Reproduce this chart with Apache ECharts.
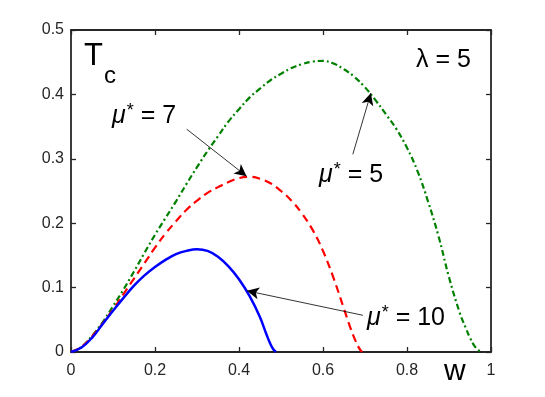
<!DOCTYPE html>
<html>
<head>
<meta charset="utf-8">
<script src="https://cdn.jsdelivr.net/npm/echarts@6/dist/echarts.min.js"></script>
<style>html,body{margin:0;padding:0;background:#fff}#c{width:545px;height:397px}</style>
</head>
<body>
<div id="c"></div>
<script>
// mu* = 10 (blue, solid)
const blueW = [0, 0.025, 0.05, 0.075, 0.1, 0.125, 0.15, 0.175, 0.2, 0.225, 0.25, 0.275, 0.3, 0.325, 0.35, 0.375, 0.4, 0.425, 0.45, 0.465, 0.475, 0.482, 0.488];
const blueT = [0, 0.007, 0.022, 0.043, 0.064, 0.084, 0.103, 0.119, 0.132, 0.143, 0.152, 0.157, 0.1595, 0.157, 0.148, 0.133, 0.113, 0.087, 0.054, 0.028, 0.012, 0.004, 0];
// mu* = 7 (red, dashed)
const redW = [0, 0.025, 0.05, 0.075, 0.1, 0.125, 0.15, 0.175, 0.2, 0.225, 0.25, 0.275, 0.3, 0.325, 0.35, 0.375, 0.4, 0.425, 0.45, 0.475, 0.5, 0.525, 0.55, 0.575, 0.6, 0.625, 0.65, 0.665, 0.677, 0.686, 0.693];
const redT = [0, 0.008, 0.024, 0.044, 0.066, 0.090, 0.114, 0.138, 0.162, 0.184, 0.203, 0.221, 0.235, 0.247, 0.256, 0.264, 0.270, 0.272, 0.269, 0.262, 0.250, 0.235, 0.215, 0.190, 0.157, 0.115, 0.067, 0.038, 0.018, 0.006, 0];
// mu* = 5 (green, dash-dot)
const greenW = [0, 0.025, 0.05, 0.075, 0.1, 0.125, 0.15, 0.175, 0.2, 0.225, 0.25, 0.275, 0.3, 0.325, 0.35, 0.375, 0.4, 0.425, 0.45, 0.475, 0.5, 0.525, 0.55, 0.575, 0.6, 0.625, 0.65, 0.675, 0.7, 0.725, 0.75, 0.775, 0.8, 0.825, 0.85, 0.875, 0.9, 0.925, 0.94, 0.95, 0.96, 0.97, 0.978];
const greenT = [0, 0.008, 0.025, 0.046, 0.071, 0.097, 0.125, 0.154, 0.182, 0.208, 0.234, 0.261, 0.287, 0.312, 0.335, 0.358, 0.377, 0.395, 0.409, 0.422, 0.432, 0.441, 0.447, 0.451, 0.452, 0.448, 0.439, 0.427, 0.411, 0.391, 0.369, 0.346, 0.317, 0.281, 0.234, 0.180, 0.116, 0.062, 0.037, 0.022, 0.010, 0.003, 0];
const xTicks = ['0', '0.2', '0.4', '0.6', '0.8', '1'];
const yTicks = ['0', '0.1', '0.2', '0.3', '0.4', '0.5'];
// annotation arrows [start w, start T, end w, end T]
const arrow7 = [0.2755, 0.346, 0.418, 0.273];
const arrow5 = [0.671, 0.307, 0.714, 0.402];
const arrow10 = [0.695, 0.057, 0.419, 0.095];

const zip = (a, b) => a.map((v, i) => [v, b[i]]);
const FONT = '"Liberation Sans", Arial, Helvetica, sans-serif';
const AX = '#262626';

const arrowLine = (a) => [{coord: [a[0], a[1]], symbol: 'none'}, {coord: [a[2], a[3]], symbol: 'arrow', symbolSize: [9, 12]}];

const muLabel = (x, y, val) => ({
  type: 'text', x: x, y: y, style: {
    text: '{m|μ}{s|*}{e| = ' + val + '}', fontFamily: FONT, verticalAlign: 'middle', align: 'left',
    rich: {m: {fontSize: 25, fontStyle: 'italic', fill: '#000', fontFamily: FONT, lineHeight: 30},
           s: {fontSize: 18, fill: '#000', fontFamily: FONT, padding: [0, 0, 10, 1], lineHeight: 30},
           e: {fontSize: 25, fill: '#000', fontFamily: FONT, lineHeight: 30}}}
});

const chart = echarts.init(document.getElementById('c'), null, {renderer: 'canvas'});
const baseAxis = {
  min: 0,
  axisLine: {show: true, onZero: false, lineStyle: {color: AX, width: 1.8}},
  axisTick: {show: true, inside: true, length: 5, lineStyle: {color: AX, width: 1.3}},
  splitLine: {show: false}
};
chart.setOption({
  animation: false,
  backgroundColor: '#fff',
  grid: {left: 71, right: 54, top: 30, bottom: 45, containLabel: false},
  xAxis: [
    Object.assign({}, baseAxis, {type: 'value', max: 1, interval: 0.2, position: 'bottom',
      axisLabel: {color: AX, fontSize: 16, fontFamily: FONT, margin: 11,
        formatter: (v) => xTicks[Math.round(v / 0.2)]}}),
    Object.assign({}, baseAxis, {type: 'value', max: 1, interval: 0.2, position: 'top', axisLabel: {show: false}})
  ],
  yAxis: [
    Object.assign({}, baseAxis, {type: 'value', max: 0.5, interval: 0.1, position: 'left',
      axisLabel: {color: AX, fontSize: 16, fontFamily: FONT, margin: 7,
        formatter: (v) => yTicks[Math.round(v / 0.1)]}}),
    Object.assign({}, baseAxis, {type: 'value', max: 0.5, interval: 0.1, position: 'right', axisLabel: {show: false}})
  ],
  series: [
    {type: 'line', data: zip(greenW, greenT), smooth: 0.4, symbol: 'none',
      lineStyle: {color: '#008000', width: 2.2, type: [6, 3, 2, 3]}},
    {type: 'line', data: zip(redW, redT), smooth: 0.4, symbol: 'none',
      lineStyle: {color: '#ff0000', width: 2.2, type: [8, 5]}},
    {type: 'line', data: zip(blueW, blueT), smooth: 0.4, symbol: 'none',
      lineStyle: {color: '#0000ff', width: 2.5}},
    {type: 'line', data: [], symbol: 'none',
      markLine: {silent: true, animation: false, label: {show: false},
        lineStyle: {color: '#000', width: 0.8, type: 'solid'},
        symbolSize: [9, 12],
        data: [arrowLine(arrow7), arrowLine(arrow5), arrowLine(arrow10)]}}
  ],
  graphic: [
    {type: 'text', x: 84, y: 56, style: {text: 'T', fontSize: 31, fill: '#000', fontFamily: FONT, verticalAlign: 'middle'}},
    {type: 'text', x: 104, y: 76, style: {text: 'c', fontSize: 24, fill: '#000', fontFamily: FONT, verticalAlign: 'middle'}},
    {type: 'text', x: 416, y: 60, style: {text: 'λ = 5', fontSize: 25, fill: '#000', fontFamily: FONT, verticalAlign: 'middle'}},
    muLabel(112, 116, '7'),
    muLabel(319, 175, '5'),
    muLabel(367, 318, '10'),
    {type: 'text', x: 444, y: 372, style: {text: 'w', fontSize: 30, fill: '#000', fontFamily: FONT, verticalAlign: 'middle'}}
  ]
});
</script>
</body>
</html>
